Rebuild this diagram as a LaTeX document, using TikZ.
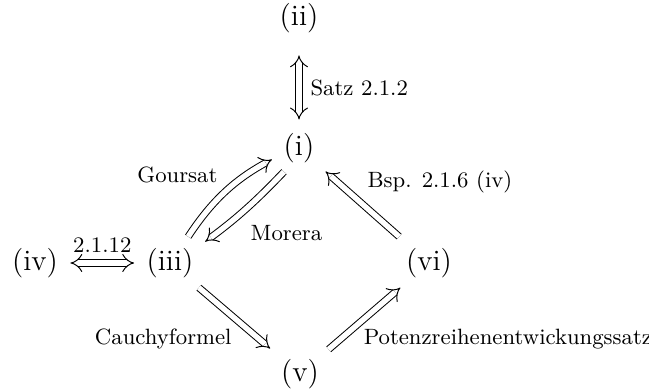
\documentclass[tikz,border=0pt]{standalone}
\usetikzlibrary{arrows.meta}
\begin{document}
\begin{tikzpicture}[x=0.4065pt,y=-0.4065pt,
  st/.style={font=\large, inner sep=2pt},
  lab/.style={font=\small, inner sep=1pt},
  imp/.style={double, double distance=2.2pt, line width=0.4pt, -{Implies}, shorten <=3pt, shorten >=3pt},
  impb/.style={double, double distance=2.2pt, line width=0.4pt, {Implies}-{Implies}, shorten <=3pt, shorten >=3pt}]
\useasboundingbox (0,0) rectangle (649,390);
\node[st] (ii) at (299,18) {(ii)};
\node[st] (i) at (299,148) {(i)};
\node[st] (iii) at (170,263) {(iii)};
\node[st] (iv) at (35,263) {(iv)};
\node[st] (vi) at (429,263) {(vi)};
\node[st] (v) at (300,374) {(v)};
\draw[impb, shorten <=7pt, shorten >=3.4pt] (ii) -- (i) node[lab, midway, anchor=west, xshift=3.5pt, yshift=-2pt] {Satz 2.1.2};
\draw[impb, shorten <=2.9pt, shorten >=2.9pt] (iv) -- (iii) node[lab, midway, anchor=south, yshift=3pt] {2.1.12};
\draw[imp] (iii.55) to[bend left=14] node[lab, pos=0.5, anchor=south east, xshift=-1.9pt, yshift=2.9pt] {Goursat} (i.201);
\draw[imp, shorten <=2pt, shorten >=3.3pt] (i.240) to[bend left=5] node[lab, pos=0.5, anchor=north west, xshift=1.1pt, yshift=-5.3pt] {Morera} (iii.30);
\draw[imp, shorten <=3.8pt, shorten >=3.2pt] (vi) -- (i) node[lab, midway, anchor=south west, xshift=0.7pt, yshift=3.3pt] {Bsp. 2.1.6 (iv)};
\draw[imp, shorten <=2.8pt, shorten >=3.3pt] (iii) -- (v) node[lab, midway, anchor=north east, xshift=-0.2pt, yshift=-2.85pt] {Cauchyformel};
\draw[imp, shorten <=2.8pt, shorten >=2.8pt] (v) -- (vi) node[lab, midway, anchor=north west, xshift=-1.5pt, yshift=-3.25pt] {Potenzreihenentwickungssatz};
\end{tikzpicture}
\end{document}
